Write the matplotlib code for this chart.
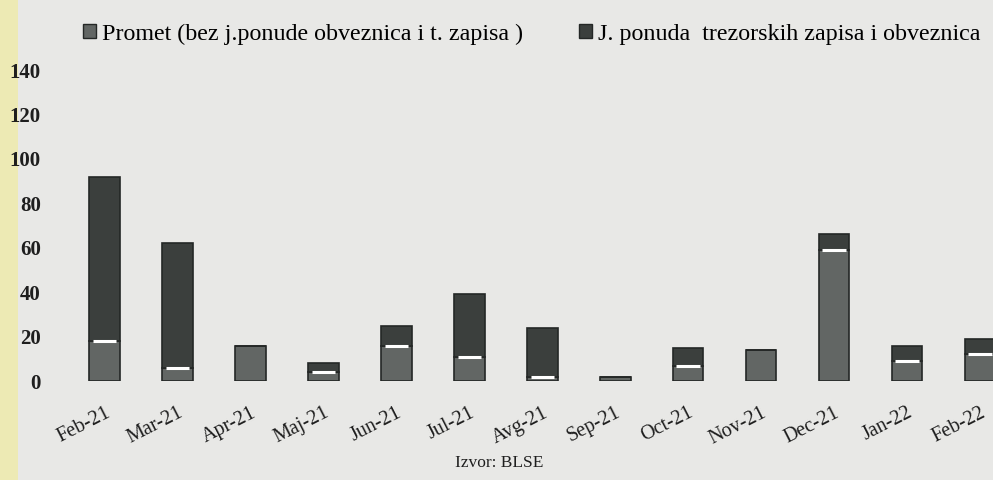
import numpy as np
import matplotlib.pyplot as plt
from matplotlib.patches import Rectangle, Patch

# --- data ---
months = ["Feb-21", "Mar-21", "Apr-21", "Maj-21", "Jun-21", "Jul-21", "Avg-21",
          "Sep-21", "Oct-21", "Nov-21", "Dec-21", "Jan-22", "Feb-22"]
promet = [18, 6, 16, 4, 16, 11, 2, 2, 7, 14, 59, 9, 12]
ponuda = [74, 56, 0, 4, 9, 28, 22, 0, 8, 0, 7, 7, 7]
yticks = [0, 20, 40, 60, 80, 100, 120, 140]

label_promet = "Promet (bez j.ponude obveznica i t. zapisa )"
label_ponuda = "J. ponuda  trezorskih zapisa i obveznica"

bg = "#e8e8e6"
c_promet = "#626664"
c_ponuda = "#3b3f3d"
c_edge = "#242726"
txt = "#1e1e1e"
serif = ["Liberation Serif", "DejaVu Serif"]

fig = plt.figure(figsize=(9.93, 4.8), dpi=100, facecolor=bg)
# faint yellow scan strip on the left edge, behind everything
fig.patches.append(Rectangle((0, 0), 0.018, 1, transform=fig.transFigure,
                             facecolor="#efeba8", edgecolor="none", alpha=0.8,
                             zorder=-10))

ax = fig.add_axes([0.055, 0.206, 0.945, 0.648])
ax.patch.set_alpha(0)

x = np.arange(len(months))
w = 0.42
ax.bar(x, promet, width=w, color=c_promet, edgecolor=c_edge, linewidth=1.2)
ax.bar(x, ponuda, width=w, bottom=promet, color=c_ponuda, edgecolor=c_edge, linewidth=1.2)

# light highlight at the top of each lower segment
for xi, p, q in zip(x, promet, ponuda):
    if q > 0:
        ax.hlines(p, xi - w / 2 + 0.05, xi + w / 2 - 0.05, colors="white", linewidth=2.2)

ax.set_xlim(-0.686, 12.18)
ax.set_ylim(0, 140)
ax.set_yticks(yticks)
ax.set_yticklabels([str(v) for v in yticks], family=serif, fontsize=15,
                   fontweight="bold", color=txt)
ax.set_xticks(x)
ax.set_xticklabels(months, rotation=27, ha="right", rotation_mode="anchor",
                   family=serif, fontsize=14.5, color=txt)
ax.tick_params(axis="y", length=0, pad=10)
ax.tick_params(axis="x", length=0, pad=16)
for s in ax.spines.values():
    s.set_visible(False)

handles = [Patch(facecolor=c_promet, edgecolor=c_edge),
           Patch(facecolor=c_ponuda, edgecolor=c_edge)]
fig.legend(handles, [label_promet, label_ponuda], loc="upper left",
           bbox_to_anchor=(0.062, 0.996), ncol=2, frameon=False,
           handlelength=0.55, handleheight=0.55, handletextpad=0.25,
           columnspacing=2.3, prop={"family": serif, "size": 17.3})

fig.text(0.503, 0.035, "Izvor: BLSE", ha="center", va="center",
         family=serif, fontsize=12.5, color=txt)

plt.savefig("out.png", dpi=100, facecolor=bg)
